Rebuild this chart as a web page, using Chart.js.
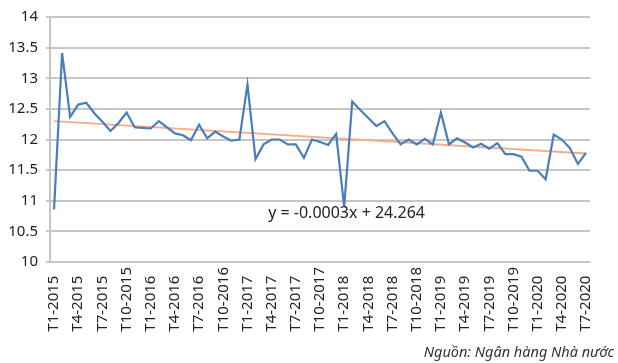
<!DOCTYPE html>
<html lang="vi">
<head>
  <meta charset="UTF-8" />
  <title>Lãi suất</title>
  <script src="https://cdn.jsdelivr.net/npm/chart.js"></script>
  <style>
    body { margin: 0; background: #fff; }
    #wrap { position: relative; width: 618px; height: 363px; }
    #source {
      position: absolute; right: 4px; bottom: 2px;
      font: italic 14.5px "Noto Sans", sans-serif; color: #333;
    }
  </style>
</head>
<body>
  <div id="wrap">
    <canvas id="chart" width="618" height="363"></canvas>
    <div id="source">Nguồn: Ngân hàng Nhà nước</div>
  </div>

  <script>
    const months = [
      "T1-2015","T2-2015","T3-2015","T4-2015","T5-2015","T6-2015","T7-2015","T8-2015","T9-2015","T10-2015","T11-2015","T12-2015",
      "T1-2016","T2-2016","T3-2016","T4-2016","T5-2016","T6-2016","T7-2016","T8-2016","T9-2016","T10-2016","T11-2016","T12-2016",
      "T1-2017","T2-2017","T3-2017","T4-2017","T5-2017","T6-2017","T7-2017","T8-2017","T9-2017","T10-2017","T11-2017","T12-2017",
      "T1-2018","T2-2018","T3-2018","T4-2018","T5-2018","T6-2018","T7-2018","T8-2018","T9-2018","T10-2018","T11-2018","T12-2018",
      "T1-2019","T2-2019","T3-2019","T4-2019","T5-2019","T6-2019","T7-2019","T8-2019","T9-2019","T10-2019","T11-2019","T12-2019",
      "T1-2020","T2-2020","T3-2020","T4-2020","T5-2020","T6-2020","T7-2020"
    ];

    const values = [
      10.86, 13.41, 12.37, 12.57, 12.60, 12.43, 12.29, 12.14, 12.27, 12.44, 12.20, 12.19,
      12.18, 12.30, 12.20, 12.10, 12.07, 11.99, 12.24, 12.02, 12.13, 12.05, 11.98, 12.00,
      12.90, 11.68, 11.92, 12.00, 12.00, 11.92, 11.92, 11.70, 12.00, 11.96, 11.91, 12.09,
      10.90, 12.62, 12.48, 12.35, 12.22, 12.30, 12.10, 11.92, 12.00, 11.92, 12.01, 11.92,
      12.44, 11.92, 12.02, 11.95, 11.87, 11.93, 11.85, 11.94, 11.76, 11.76, 11.72, 11.49,
      11.49, 11.35, 12.08, 12.00, 11.86, 11.60, 11.78
    ];

    // linear trend (Excel trendline), read at both ends
    const trendStart = 12.30;
    const trendEnd = 11.77;
    const equationText = "y = -0.0003x + 24.264";

    const yTicks = { min: 10, max: 14, step: 0.5 };

    const equationLabel = {
      id: "equationLabel",
      afterDatasetsDraw(chart) {
        const { ctx, scales } = chart;
        const x = scales.x.getPixelForValue(36.3);
        const y = scales.y.getPixelForValue(10.79);
        ctx.save();
        ctx.font = '16px "Noto Sans", sans-serif';
        ctx.fillStyle = "#222";
        ctx.textAlign = "center";
        ctx.textBaseline = "middle";
        ctx.fillText(equationText, x, y);
        ctx.restore();
      }
    };

    new Chart(document.getElementById("chart"), {
      type: "line",
      data: {
        labels: months,
        datasets: [
          {
            label: "Lãi suất",
            data: values,
            borderColor: "#4a7ebb",
            borderWidth: 2.2,
            pointRadius: 0,
            tension: 0,
            order: 1
          },
          {
            label: "Linear",
            data: [
              { x: months[0], y: trendStart },
              { x: months[months.length - 1], y: trendEnd }
            ],
            borderColor: "#f5ad86",
            borderWidth: 2,
            pointRadius: 0,
            order: 2
          }
        ]
      },
      options: {
        responsive: false,
        animation: false,
        layout: { padding: { left: 0, right: 28, top: 14, bottom: 26 } },
        plugins: {
          legend: { display: false },
          tooltip: { enabled: false }
        },
        scales: {
          x: {
            offset: true,
            grid: { display: false, drawTicks: false },
            border: { display: false },
            afterFit(scale) { scale.height = 75; },
            ticks: {
              autoSkip: false,
              minRotation: 90,
              maxRotation: 90,
              padding: 5,
              color: "#222",
              font: { family: "Noto Sans", size: 15 },
              callback(val, i) {
                if (i % 3 !== 0) return null;
                const t = months[i];
                return t.length < 8 ? t + "\u2007" : t;
              }
            }
          },
          y: {
            min: yTicks.min,
            max: yTicks.max,
            afterFit(scale) { scale.width = 50; },
            grid: { color: "#c6c6c6", lineWidth: 2, tickLength: 4 },
            border: { display: true, color: "#c6c6c6", width: 2 },
            ticks: {
              stepSize: yTicks.step,
              padding: 8,
              color: "#222",
              font: { family: "Noto Sans", size: 15 },
              callback: (v) => String(v)
            }
          }
        }
      },
      plugins: [equationLabel]
    });
  </script>
</body>
</html>
